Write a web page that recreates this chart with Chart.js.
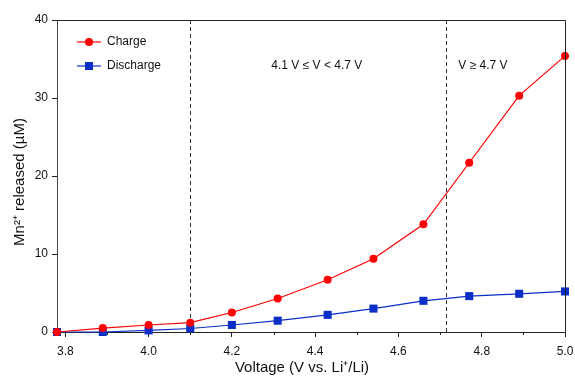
<!DOCTYPE html>
<html>
<head>
<meta charset="utf-8">
<script src="https://cdn.jsdelivr.net/npm/chart.js@4.4.1/dist/chart.umd.min.js"></script>
<style>
  html, body { margin: 0; padding: 0; background: #ffffff; }
  #wrap { width: 575px; height: 376px; position: relative; }
</style>
</head>
<body>
<div id="wrap"><canvas id="mnChart" width="575" height="376"></canvas></div>
<script>
// Data
const voltage = [3.78, 3.89, 4.0, 4.1, 4.2, 4.31, 4.43, 4.54, 4.66, 4.77, 4.89, 5.0];
const chargeMn = [0, 0.5, 0.9, 1.2, 2.5, 4.3, 6.7, 9.4, 13.8, 21.7, 30.3, 35.4];
const dischargeMn = [0, 0, 0.2, 0.45, 0.9, 1.45, 2.2, 3.0, 4.0, 4.6, 4.9, 5.2];
const xTicks = [3.8, 3.9, 4.0, 4.1, 4.2, 4.3, 4.4, 4.5, 4.6, 4.7, 4.8, 4.9, 5.0];
const yTicks = [0, 10, 20, 30, 40];
const regionLines = [4.1, 4.715];
const regionLabels = ['4.1 V \u2264 V < 4.7 V', 'V \u2265 4.7 V'];
const regionLabelX = [4.404, 4.803];
const regionLabelY = 34.2;

const FONT = '"Liberation Sans", Arial, sans-serif';
const isMajor = v => Math.round(v * 10) % 2 === 0;

const toPoints = ys => voltage.map((v, i) => ({ x: v, y: ys[i] }));

const decorations = {
    id: 'decorations',
    beforeDatasetsDraw(chart) {
        const { ctx, chartArea, scales } = chart;
        ctx.save();
        // region separators
        ctx.strokeStyle = '#333';
        ctx.lineWidth = 1;
        ctx.setLineDash([4, 3]);
        regionLines.forEach(v => {
            const px = Math.round(scales.x.getPixelForValue(v)) + 0.5;
            ctx.beginPath();
            ctx.moveTo(px, chartArea.top);
            ctx.lineTo(px, chartArea.bottom);
            ctx.stroke();
        });
        ctx.setLineDash([]);
        // region labels
        ctx.fillStyle = '#111';
        ctx.font = '12px ' + FONT;
        ctx.textAlign = 'center';
        ctx.textBaseline = 'middle';
        regionLabels.forEach((t, i) => {
            ctx.fillText(t, scales.x.getPixelForValue(regionLabelX[i]), scales.y.getPixelForValue(regionLabelY));
        });
        ctx.restore();
    },
    afterDraw(chart) {
        const { ctx, chartArea, scales } = chart;
        ctx.save();
        // frame top + right
        ctx.strokeStyle = '#222';
        ctx.lineWidth = 1;
        ctx.beginPath();
        ctx.moveTo(chartArea.left, chartArea.top + 0.5);
        ctx.lineTo(chartArea.right + 0.5, chartArea.top + 0.5);
        ctx.lineTo(chartArea.right + 0.5, chartArea.bottom);
        ctx.stroke();
        // minor x ticks
        ctx.beginPath();
        xTicks.filter(v => !isMajor(v)).forEach(v => {
            const px = Math.round(scales.x.getPixelForValue(v)) + 0.5;
            ctx.moveTo(px, chartArea.bottom);
            ctx.lineTo(px, chartArea.bottom + 3);
        });
        ctx.stroke();

        // legend
        const items = [
            { label: 'Charge', color: '#ff0000', style: 'circle', y: 42 },
            { label: 'Discharge', color: '#0a2fc8', style: 'rect', y: 66 }
        ];
        ctx.font = '12px ' + FONT;
        ctx.textAlign = 'left';
        ctx.textBaseline = 'middle';
        items.forEach(it => {
            ctx.strokeStyle = it.color;
            ctx.lineWidth = 1.2;
            ctx.beginPath();
            ctx.moveTo(77, it.y);
            ctx.lineTo(101, it.y);
            ctx.stroke();
            ctx.fillStyle = it.color;
            if (it.style === 'circle') {
                ctx.beginPath();
                ctx.arc(89, it.y, 4, 0, Math.PI * 2);
                ctx.fill();
            } else {
                ctx.fillRect(85, it.y - 4, 8, 8);
            }
            ctx.fillStyle = '#111';
            ctx.fillText(it.label, 107, it.y);
        });

        // axis titles
        ctx.fillStyle = '#111';
        ctx.font = '15px ' + FONT;
        ctx.textAlign = 'center';
        ctx.textBaseline = 'middle';
        ctx.fillText('Voltage (V vs. Li\u207A/Li)', 302, 368);
        ctx.translate(20, 182);
        ctx.rotate(-Math.PI / 2);
        ctx.fillText('Mn\u00B2\u207A released (\u00B5M)', 0, 0);
        ctx.restore();
    }
};

new Chart(document.getElementById('mnChart'), {
    type: 'line',
    data: {
        datasets: [
            {
                label: 'Charge',
                data: toPoints(chargeMn),
                borderColor: '#ff0000',
                backgroundColor: '#ff0000',
                borderWidth: 1.2,
                pointStyle: 'circle',
                pointRadius: 4,
                pointBorderWidth: 0,
                tension: 0,
                clip: false
            },
            {
                label: 'Discharge',
                data: toPoints(dischargeMn),
                borderColor: '#0a2fc8',
                backgroundColor: '#0a2fc8',
                borderWidth: 1.2,
                pointStyle: 'rect',
                pointRadius: 5.7,
                pointBorderWidth: 0,
                tension: 0,
                clip: false
            }
        ]
    },
    options: {
        responsive: false,
        animation: false,
        layout: { padding: { top: 20, right: 10, left: 0, bottom: 0 } },
        plugins: {
            legend: { display: false },
            tooltip: { enabled: false }
        },
        scales: {
            x: {
                type: 'linear',
                min: 3.78,
                max: 5.0,
                afterBuildTicks: scale => { scale.ticks = xTicks.map(v => ({ value: v })); },
                afterFit: scale => {
                    scale.height = 44;
                    scale.paddingLeft = 0;
                    scale.paddingRight = 0;
                },
                border: { display: true, color: '#222', width: 1 },
                grid: {
                    drawOnChartArea: false,
                    drawTicks: true,
                    tickLength: 5,
                    tickColor: ctx => (ctx.tick && isMajor(ctx.tick.value)) ? '#222' : 'rgba(0,0,0,0)'
                },
                ticks: {
                    autoSkip: false,
                    maxRotation: 0,
                    padding: 7,
                    color: '#111',
                    font: { family: FONT, size: 12 },
                    callback: v => isMajor(v) ? v.toFixed(1) : ''
                }
            },
            y: {
                min: 0,
                max: 40,
                afterBuildTicks: scale => { scale.ticks = yTicks.map(v => ({ value: v })); },
                afterFit: scale => {
                    scale.width = 57;
                    scale.paddingTop = 0;
                    scale.paddingBottom = 0;
                },
                border: { display: true, color: '#444', width: 1 },
                grid: {
                    drawOnChartArea: false,
                    drawTicks: true,
                    tickLength: 5,
                    tickColor: '#222'
                },
                ticks: {
                    padding: 4,
                    color: '#111',
                    font: { family: FONT, size: 12 }
                }
            }
        }
    },
    plugins: [decorations]
});
</script>
</body>
</html>
